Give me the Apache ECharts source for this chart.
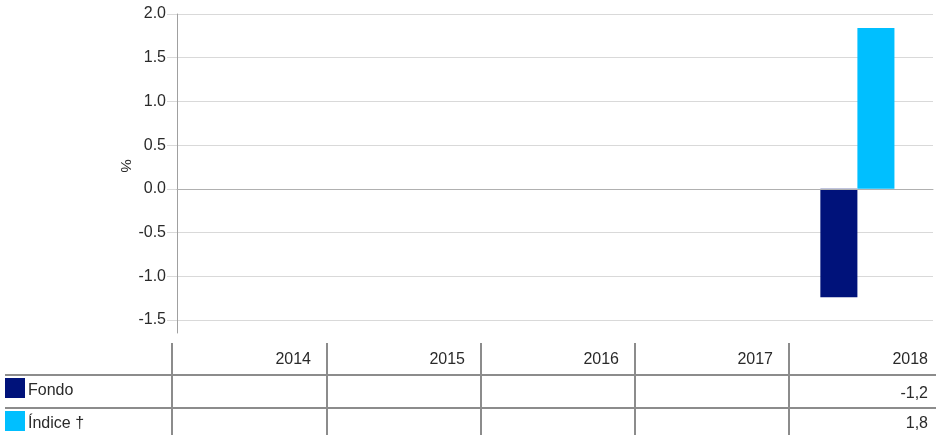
<!DOCTYPE html>
<html><head><meta charset="utf-8">
<script src="https://cdn.jsdelivr.net/npm/echarts@6/dist/echarts.min.js"></script>
<style>html,body{margin:0;padding:0;background:#fff}#c{width:936px;height:435px}</style>
</head><body><div id="c"></div>
<script>
const categories = ['2014','2015','2016','2017','2018'];
const fondo = [null,null,null,null,-1.24];
const indice = [null,null,null,null,1.84];
const fondoLabels = ['','','','','-1,2'];
const indiceLabels = ['','','','','1,8'];
const seriesNames = ['Fondo','Índice †'];
const yTicks = [-1.5,-1,-0.5,0,0.5,1,1.5,2];
const colors = ['#00127A','#00BFFF'];

const FONT = 'Liberation Sans';
const chart = echarts.init(document.getElementById('c'));

// table layout
const colX = [172,327,481,635,789,943];
const rowY = [343,375,408,435];
const lineCol = '#8c8c8c';
const g = [];
colX.slice(0,5).forEach(x=>{
  g.push({type:'line',shape:{x1:x,y1:rowY[0],x2:x,y2:rowY[3]},style:{stroke:lineCol,lineWidth:2},z:10});
});
[rowY[1],rowY[2]].forEach(y=>{
  g.push({type:'line',shape:{x1:5,y1:y,x2:936,y2:y},style:{stroke:lineCol,lineWidth:2},z:10});
});
const rowsText = [categories, fondoLabels, indiceLabels];
rowsText.forEach((row,ri)=>{
  const cy = (rowY[ri]+rowY[ri+1])/2 + (ri===0?1:2);
  row.forEach((t,ci)=>{
    const right = Math.min(colX[ci+1],936) - (ci===4?8:16);
    g.push({type:'text',style:{text:t,x:right,y:cy,textAlign:'right',textVerticalAlign:'middle',font:'16px "'+FONT+'"',fill:'#2a2a2a'},z:10});
  });
});
seriesNames.forEach((n,i)=>{
  const top = rowY[i+1]+3;
  g.push({type:'rect',shape:{x:5,y:top,width:20,height:20},style:{fill:colors[i]},z:10});
  g.push({type:'text',style:{text:n,x:28,y:top+13,textVerticalAlign:'middle',font:'16px "'+FONT+'"',fill:'#2a2a2a'},z:10});
});
// axis name "%"
g.push({type:'text',rotation:-Math.PI/2,x:125,y:166,style:{text:'%',textAlign:'center',textVerticalAlign:'middle',font:'15px "'+FONT+'"',fill:'#2a2a2a'},z:10});

chart.setOption({
  animation:false,
  grid:{left:177,right:3,top:14,bottom:102,containLabel:false},
  xAxis:{type:'category',data:categories,z:5,
    axisLine:{onZero:true,lineStyle:{color:'#b0b0b0',width:1}},
    axisTick:{show:false},axisLabel:{show:false},splitLine:{show:false}},
  yAxis:{type:'value',min:-1.65,max:2,
    axisLine:{show:true,lineStyle:{color:'#a0a0a0',width:1}},
    axisTick:{show:true,length:10,customValues:yTicks,lineStyle:{color:'#d9d9d9'}},
    axisLabel:{customValues:yTicks,fontFamily:FONT,fontSize:16,color:'#2a2a2a',margin:11,
      formatter:v=>v.toFixed(1)},
    splitLine:{show:true,lineStyle:{color:'#d9d9d9',width:1}}},
  series:[
    {name:seriesNames[0],type:'bar',data:fondo,barWidth:'24.5%',barGap:'0%',itemStyle:{color:colors[0]}},
    {name:seriesNames[1],type:'bar',data:indice,barWidth:'24.5%',barGap:'0%',itemStyle:{color:colors[1]}}
  ],
  graphic:g
});
</script></body></html>
